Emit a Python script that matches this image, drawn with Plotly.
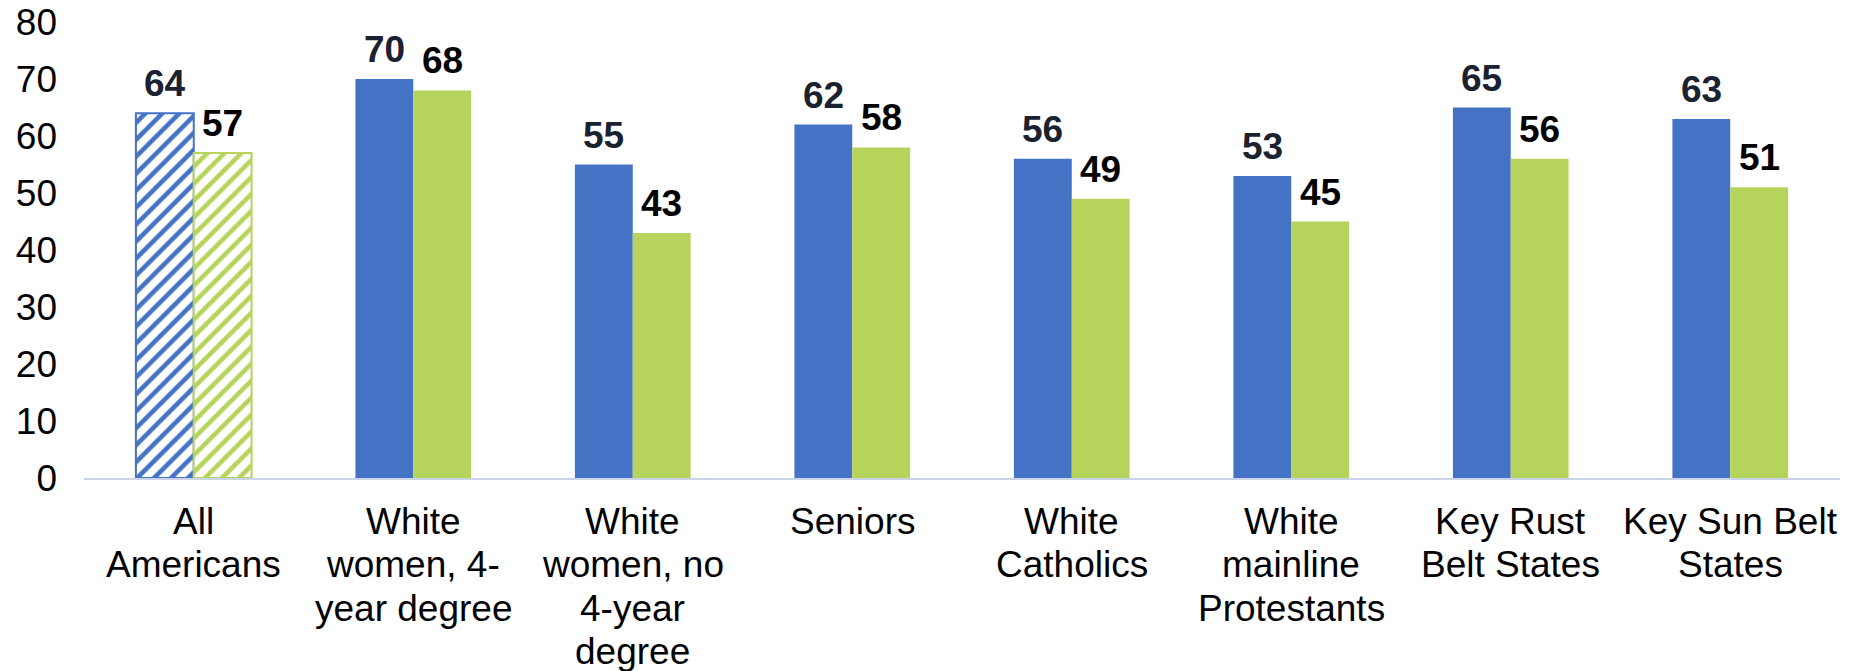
import plotly.graph_objects as go

categories = ["All<br>Americans", "White<br>women, 4-<br>year degree", "White<br>women, no<br>4-year<br>degree",
              "Seniors", "White<br>Catholics", "White<br>mainline<br>Protestants", "Key Rust<br>Belt States",
              "Key Sun Belt<br>States"]
series_a = [64, 70, 55, 62, 56, 53, 65, 63]
series_b = [57, 68, 43, 58, 49, 45, 56, 51]
y_ticks = [0, 10, 20, 30, 40, 50, 60, 70, 80]

BLUE = "#4472C4"
GREEN = "#B6D35B"
FONT = "Liberation Sans, Arial, sans-serif"
FS = 37

shapes_pat = ["/"] + [""] * (len(categories) - 1)
line_w = [2] + [0] * (len(categories) - 1)

fig = go.Figure()
fig.add_trace(go.Bar(
    x=categories, y=series_a, name="A",
    marker=dict(color=BLUE, line=dict(color=BLUE, width=line_w),
                pattern=dict(shape=shapes_pat, bgcolor="white", fgcolor=BLUE,
                             size=12, solidity=0.38, fillmode="replace")),
))
fig.add_trace(go.Bar(
    x=categories, y=series_b, name="B",
    marker=dict(color=GREEN, line=dict(color=GREEN, width=line_w),
                pattern=dict(shape=shapes_pat, bgcolor="white", fgcolor=GREEN,
                             size=12, solidity=0.38, fillmode="replace")),
))

half = 28.9
for c, va, vb in zip(categories, series_a, series_b):
    fig.add_annotation(x=c, y=va, text=f"<b>{va}</b>", showarrow=False, xref="x", yref="y",
                       xshift=-half, yshift=7, yanchor="bottom",
                       font=dict(family=FONT, size=FS, color="#1a2130"))
    fig.add_annotation(x=c, y=vb, text=f"<b>{vb}</b>", showarrow=False, xref="x", yref="y",
                       xshift=half, yshift=7, yanchor="bottom",
                       font=dict(family=FONT, size=FS, color="#000000"))
    # category label, one annotation per line for tight line spacing
    for i, line in enumerate(c.split("<br>")):
        fig.add_annotation(x=c, y=0, text=line, showarrow=False, xref="x", yref="y",
                           yanchor="middle", yshift=-(43 + 43.5 * i),
                           font=dict(family=FONT, size=FS, color="#000000"))

fig.update_layout(
    width=1848, height=663,
    margin=dict(l=76, r=16, t=13.5, b=193, pad=0),
    barmode="group", bargap=0.473, bargroupgap=0,
    plot_bgcolor="white", paper_bgcolor="white",
    showlegend=False,
    font=dict(family=FONT, size=FS, color="#000000"),
)
fig.update_xaxes(showline=True, linecolor="#C9D5E6", linewidth=2, showgrid=False,
                 ticks="", showticklabels=False, zeroline=False, automargin=False)
fig.update_yaxes(range=[0, 80], tickvals=y_ticks, showgrid=False, showline=False, zeroline=False,
                 ticks="", tickfont=dict(size=FS, color="#000000"), ticklabelstandoff=26,
                 ticklabeloverflow="allow", automargin=False)

fig.write_html("out.html")
